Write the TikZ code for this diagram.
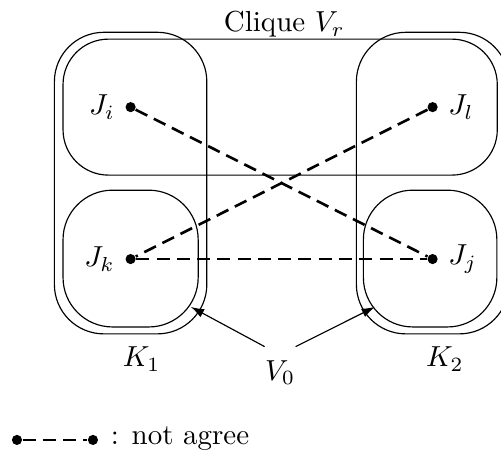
\documentclass[tikz,border=0pt]{standalone}
\usetikzlibrary{arrows.meta,calc}
\tikzset{
    grp/.style={rectangle,draw=black,rounded corners=0.55cm,inner sep=0pt},
    pt/.style={circle,fill=black,inner sep=0pt,minimum size=3.5pt},
    nag/.style={line width=0.9pt,dash pattern=on 4.5pt off 2.5pt},
    arr/.style={-{Latex[length=1.6mm,width=1.1mm]},thin},
    lbl/.style={anchor=base}
}
\begin{document}
\begin{tikzpicture}
    \useasboundingbox (0,0) rectangle (6.08,5.485);

    % groups
    \node[grp,minimum width=5.27cm,minimum height=1.65cm] (clq) at (3.40,4.185) {};
    \node[grp,minimum width=1.85cm,minimum height=3.66cm,rounded corners=0.6cm] (k1) at (1.585,3.263) {};
    \node[grp,minimum width=1.85cm,minimum height=3.66cm,rounded corners=0.6cm] (k2) at (5.25,3.263) {};
    \node[grp,minimum width=1.64cm,minimum height=1.66cm,rounded corners=0.6cm] (bk) at (1.585,2.347) {};
    \node[grp,minimum width=1.62cm,minimum height=1.66cm,rounded corners=0.6cm] (bj) at (5.22,2.347) {};

    % vertices
    \node[pt,label=left:{$J_i$}]  (ji) at (1.585,4.185) {};
    \node[pt,label=right:{$J_l$}] (jl) at (5.25,4.185) {};
    \node[pt,label=left:{$J_k$}]  (jk) at (1.585,2.341) {};
    \node[pt,label=right:{$J_j$}] (jj) at (5.25,2.341) {};

    \draw[nag] (ji) -- (jj);
    \draw[nag] (jl) -- (jk);
    \draw[nag] (jk) -- (jj);

    % labels
    \node[lbl] (vr) at (3.45,5.10) {Clique $V_r$};
    \node[lbl] (kl1) at (1.719,1.035) {$K_1$};
    \node[lbl] (kl2) at (5.398,1.035) {$K_2$};
    \node[lbl,inner xsep=0pt,inner ysep=4.5pt] (v0) at (3.40,0.873) {$V_0$};

    \coordinate (tip1) at (2.317,1.760);
    \coordinate (tip2) at (4.549,1.760);
    \draw[arr] (v0.north west) -- (tip1);
    \draw[arr] (v0.north east) -- (tip2);

    % legend
    \node[pt] (la) at (0.206,0.146) {};
    \node[pt] (lb) at (1.128,0.146) {};
    \draw[nag] (la) -- (lb);
    \node[anchor=base west] (lgd) at (1.22,0.085) {: not agree};
\end{tikzpicture}
\end{document}
